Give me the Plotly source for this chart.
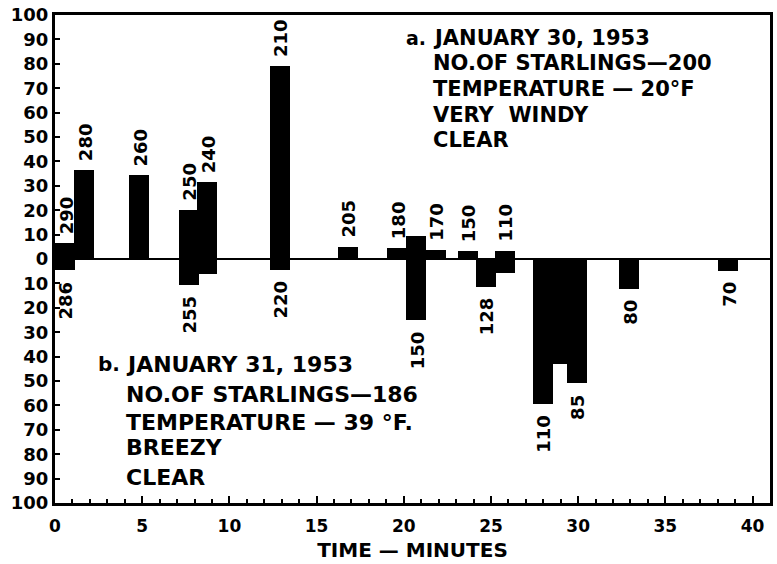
import plotly.graph_objects as go

# ---- data ----
# a. January 30, 1953  (plotted upward)
a_time = [0.60, 1.66, 4.83, 7.68, 8.71, 12.88, 16.79, 19.62, 20.70, 21.84, 23.70, 25.78]
a_value = [6.6, 36.4, 34.3, 20.2, 31.4, 78.9, 5.0, 4.5, 9.5, 3.7, 3.3, 3.3]
a_label = ["290", "280", "260", "250", "240", "210", "205", "180", "", "170", "150", "110"]

# b. January 31, 1953  (plotted downward)
b_time = [0.60, 7.68, 8.71, 12.88, 20.70, 24.70, 25.78, 27.96, 28.95, 29.93, 32.90, 38.61]
b_value = [4.5, 10.5, 6.1, 4.5, 25.1, 11.3, 5.7, 59.5, 42.9, 51.0, 12.1, 4.9]
b_label = ["286", "255", "", "220", "150", "128", "", "110", "", "85", "80", "70"]

y_tickvals = [-100, -90, -80, -70, -60, -50, -40, -30, -20, -10, 0,
              10, 20, 30, 40, 50, 60, 70, 80, 90, 100]
y_ticktext = ["100", "90", "80", "70", "60", "50", "40", "30", "20", "10", "0",
              "10", "20", "30", "40", "50", "60", "70", "80", "90", "100"]
x_tickvals = [0, 5, 10, 15, 20, 25, 30, 35, 40]

text_a_head = "a."
text_a = ["JANUARY 30, 1953", "NO.OF STARLINGS—200", "TEMPERATURE — 20°F",
          "VERY  WINDY", "CLEAR"]
text_b_head = "b."
text_b = ["JANUARY 31, 1953", "NO.OF STARLINGS—186", "TEMPERATURE — 39 °F.",
          "BREEZY", "CLEAR"]

FONT = "DejaVu Sans"
BAR_W = 1.15

fig = go.Figure()
fig.add_trace(go.Bar(x=a_time, y=a_value, width=BAR_W, marker_color="black",
                     marker_line_width=0, showlegend=False))
fig.add_trace(go.Bar(x=b_time, y=[-v for v in b_value], width=BAR_W,
                     marker_color="black", marker_line_width=0, showlegend=False))

anns = []
for t, v, lab in zip(a_time, a_value, a_label):
    if lab:
        anns.append(dict(x=t, y=v, text=lab, textangle=-90, showarrow=False,
                         xanchor="center", yanchor="bottom", yshift=7, xshift=1,
                         font=dict(family=FONT, size=18, color="black", weight="bold")))
for t, v, lab in zip(b_time, b_value, b_label):
    if lab:
        anns.append(dict(x=t, y=-v, text=lab, textangle=-90, showarrow=False,
                         xanchor="center", yanchor="top", yshift=-9, xshift=1,
                         font=dict(family=FONT, size=18, color="black", weight="bold")))

# text blocks (positions in paper coordinates)
def paper_x(px):
    return (px - 55) / (773 - 55)

def paper_y(py):
    return (503 - py) / (503 - 14)

a_rows = [37.5, 62, 88, 114, 139.5]
anns.append(dict(x=paper_x(430), y=paper_y(a_rows[0]), xref="paper", yref="paper",
                 text=text_a_head, showarrow=False, xanchor="right", yanchor="middle",
                 font=dict(family=FONT, size=19, color="black", weight="bold")))
for i, line in enumerate(text_a):
    anns.append(dict(x=paper_x(433), y=paper_y(a_rows[i]), xref="paper", yref="paper",
                     text=line, showarrow=False, xanchor="left", yanchor="middle",
                     font=dict(family=FONT, size=21, color="black", weight="bold")))

b_rows = [364, 394, 422, 447, 477]
anns.append(dict(x=paper_x(122), y=paper_y(b_rows[0]), xref="paper", yref="paper",
                 text=text_b_head, showarrow=False, xanchor="right", yanchor="middle",
                 font=dict(family=FONT, size=20, color="black", weight="bold")))
for i, line in enumerate(text_b):
    anns.append(dict(x=paper_x(124), y=paper_y(b_rows[i]), xref="paper", yref="paper",
                     text=line, showarrow=False, xanchor="left", yanchor="middle",
                     font=dict(family=FONT, size=22, color="black", weight="bold")))

fig.update_layout(
    width=777, height=564,
    margin=dict(l=55, r=4, t=14, b=61),
    paper_bgcolor="white", plot_bgcolor="white",
    barmode="overlay", bargap=0,
    annotations=anns,
    font=dict(family=FONT, color="black"),
)
fig.update_xaxes(
    range=[0, 41], tickvals=x_tickvals, ticks="inside", ticklen=7, tickwidth=2,
    tickcolor="black", ticklabelstandoff=6,
    minor=dict(dtick=1, ticks="inside", ticklen=4, tickwidth=2, tickcolor="black"),
    showline=True, linecolor="black", linewidth=3, mirror=True,
    showgrid=False, zeroline=False,
    tickfont=dict(family=FONT, size=17, color="black", weight="bold"),
    title=dict(text="TIME — MINUTES", standoff=8,
               font=dict(family=FONT, size=20, color="black", weight="bold")),
)
fig.update_yaxes(
    range=[-100, 100], tickvals=y_tickvals, ticktext=y_ticktext,
    ticks="inside", ticklen=5, tickwidth=2, tickcolor="black",
    showline=True, linecolor="black", linewidth=3, mirror=True,
    showgrid=False, zeroline=True, zerolinecolor="black", zerolinewidth=2,
    tickfont=dict(family=FONT, size=18, color="black", weight="bold"),
)

fig.write_html("out.html")
